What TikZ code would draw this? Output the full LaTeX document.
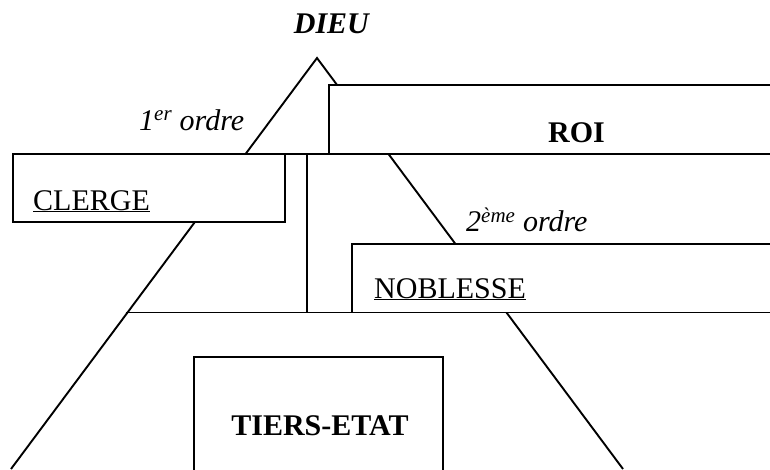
\documentclass[tikz,border=0pt]{standalone}
\usepackage{fontspec}
\setmainfont{Liberation Serif}
\begin{document}
\begin{tikzpicture}[x=1pt,y=-1pt,
  ln/.style={line width=1.9pt,line cap=butt},
  boxw/.style={ln,fill=white},
  txt/.style={inner sep=0pt,font=\fontsize{30}{33}\selectfont}]
\useasboundingbox (0,0) rectangle (770,469);
\clip (0,0) rectangle (770,469);
% pyramid
\coordinate (apex) at (317,58);
\coordinate (bl) at (11,469);
\coordinate (br) at (623,469);
\draw[ln,line join=miter] (bl) -- (apex) -- (br);
% boxes
\draw[boxw] (12.7,154) rectangle (285,221.7);
\draw[boxw] (329.3,85.3) rectangle (790,153.8);
\draw[boxw] (352.3,244.3) rectangle (790,312.5);
\draw[boxw] (194,357.3) rectangle (443,490);
% lines
\coordinate (h1a) at (12.7,154); \coordinate (h1b) at (790,154);
\draw[ln] (h1a) -- (h1b);
\coordinate (h2a) at (125.5,312.5); \coordinate (h2b) at (790,312.5);
\draw[ln] (h2a) -- (h2b);
\coordinate (v1a) at (306.7,154); \coordinate (v1b) at (306.7,312.5);
\draw[ln] (v1a) -- (v1b);
% texts
\node[txt,anchor=base] (dieu) at (332,33) {\textbf{\textit{DIEU}}};
\node[txt,anchor=base west] (o1) at (139,130) {\textit{1\textsuperscript{er} ordre}};
\node[txt,anchor=base] (roi) at (576.5,142.7) {\textbf{ROI}};
\node[txt,anchor=base west] (clerge) at (33,210) {\underline{CLERGE}};
\node[txt,anchor=base west] (o2) at (466,231.7) {\textit{2\textsuperscript{ème} ordre}};
\node[txt,anchor=base west] (noblesse) at (374,298) {\underline{NOBLESSE}};
\node[txt,anchor=base] (tiers) at (320,435) {\textbf{TIERS-ETAT}};
\end{tikzpicture}
\end{document}
